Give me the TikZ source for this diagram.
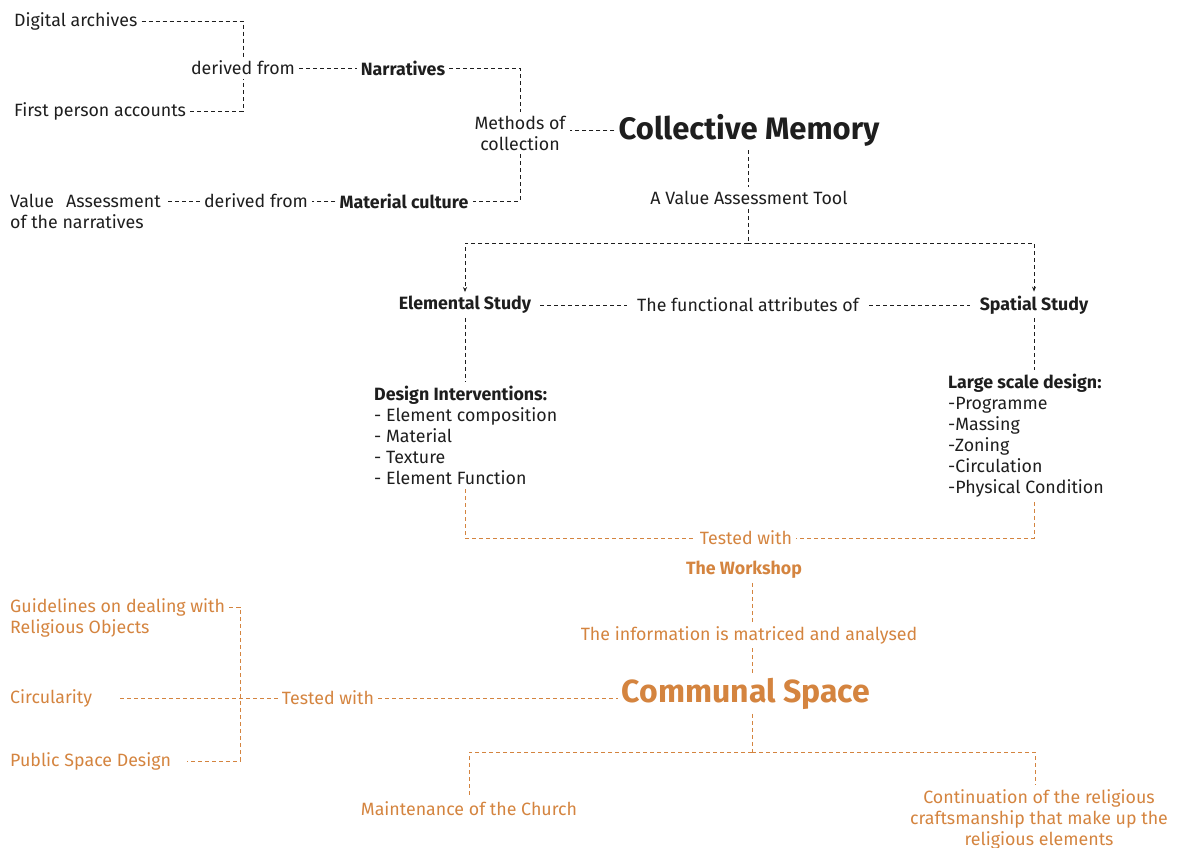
\documentclass[tikz,border=0pt]{standalone}
\usepackage{fontspec}
\setmainfont{Fira Sans}
\usepackage{xcolor}
\usetikzlibrary{positioning, arrows.meta, calc}
\definecolor{ink}{HTML}{1E1E1E}
\definecolor{warm}{HTML}{D4843F}
\newcommand\bodysize{\fontsize{17.8}{21}\selectfont}
\tikzset{
  txt/.style   = {font=\bodysize, text=ink, inner sep=4pt, align=left},
  hdr/.style   = {txt, font=\bodysize\bfseries},
  otxt/.style  = {txt, text=warm},
  ohdr/.style  = {hdr, text=warm},
  link/.style  = {draw=ink, line width=0.8pt, dash pattern=on 4pt off 3pt},
  olink/.style = {draw=warm, line width=0.8pt, dash pattern=on 4pt off 3pt},
  down/.style  = {link, -{Stealth[length=5pt, width=4pt]}}
}

\begin{document}
\begin{tikzpicture}[x=1pt, y=-1pt]
    \useasboundingbox (0,0) rectangle (1181,848);

    % ── Sources of collective memory ─────────────────────────────────────
    \node[txt, anchor=west] (digital) at (10, 21) {Digital archives};
    \node[txt, anchor=west] (first)   at (10, 111) {First person accounts};
    \node[txt] (derivedA) at (243, 68) {derived from};
    \node[hdr] (narr)     at (403, 68) {Narratives};
    \node[txt, align=center] (methods) at (520, 133) {Methods of\\collection};
    \node[txt, anchor=west] (value) at (6, 211.5)
      {Value\hspace{12pt}Assessment\\of the narratives};
    \node[txt] (derivedB) at (256, 201) {derived from};
    \node[hdr] (matcult)  at (404, 201) {Material culture};

    \draw[link] (digital.east) -| (derivedA.north);
    \draw[link] (first.east)   -| (derivedA.south);
    \draw[link] (derivedA.east) -- (narr.west);
    \draw[link] (narr.east) -| (methods.north);
    \draw[link] (methods.south) |- (matcult.east);
    \draw[link] (derivedB.west) -- (derivedB.west -| value.east);
    \draw[link] (matcult.west) -- (derivedB.east);

    % ── Collective memory and the value assessment tool ──────────────────
    \node[txt, font=\fontsize{31}{34}\selectfont\bfseries] (cm) at (749, 130)
      {Collective Memory};
    \node[txt] (vat) at (749, 198) {A Value Assessment Tool};
    \coordinate (split) at (748, 243);

    \draw[link] (cm.west) -- (cm.west -| methods.east);
    \draw[link] (cm.south -| split) -- (vat.north -| split);
    \draw[link] (vat.south -| split) -- (split);

    % ── Elemental and spatial study ──────────────────────────────────────
    \node[hdr] (elem)  at (465, 305) {Elemental Study};
    \node[hdr] (spat)  at (1034, 305) {Spatial Study};
    \node[txt] (fattr) at (748, 305) {The functional attributes of};

    \draw[down] (split) -| (elem.north);
    \draw[down] (split) -| (spat.north);
    \draw[link, shorten <=5pt, shorten >=6pt] (elem.east) -- (fattr.west);
    \draw[link, shorten <=6pt, shorten >=6pt] (fattr.east) -- (spat.west);

    \node[txt, anchor=west] (design) at (370, 435.5)
      {\textbf{Design Interventions:}\\- Element composition\\- Material\\- Texture\\- Element Function};
    \node[txt, anchor=west] (large) at (944, 436)
      {\textbf{Large scale design:}\\-Programme\\-Massing\\-Zoning\\-Circulation\\-Physical Condition};

    \draw[link] (elem.south) -- (elem.south |- design.north);
    \draw[link] (spat.south) -- (spat.south |- large.north);

    % ── Workshop ─────────────────────────────────────────────────────────
    \node[otxt] (testA)    at (746, 538) {Tested with};
    \node[ohdr] (workshop) at (744, 570) {The Workshop};
    \node[otxt] (info)     at (749, 635) {The information is matriced and analysed};

    \draw[olink] (elem.south |- design.south) |- (testA.west);
    \draw[olink] (spat.south |- large.south) |- (testA.east);

    % ── Communal space ───────────────────────────────────────────────────
    \node[ohdr, font=\fontsize{32}{35}\selectfont\bfseries] (cs) at (746, 694)
      {Communal Space};
    \coordinate (split2) at (752, 752);

    \draw[olink] (workshop.south -| split2) -- (info.north -| split2);
    \draw[olink] (info.south -| split2) -- (cs.north -| split2);
    \draw[olink] (cs.south -| split2) -- (split2);

    \node[otxt] (church) at (469, 809) {Maintenance of the Church};
    \node[otxt, align=center] (craft) at (1039, 819)
      {Continuation of the religious\\craftsmanship that make up the\\religious elements};

    \draw[olink] (split2) -| (church.north);
    \draw[olink] (split2) -| ($(craft.north)+(-4,0)$);

    % ── Left cluster ─────────────────────────────────────────────────────
    \node[otxt, anchor=west] (guide) at (6, 617.5)
      {Guidelines on dealing with\\Religious Objects};
    \node[otxt, anchor=west] (circ) at (6, 698) {Circularity};
    \node[otxt, anchor=west] (psd)  at (6, 761) {Public Space Design};
    \node[otxt] (testB) at (328, 698) {Tested with};
    \coordinate (gtop) at (240, 607);
    \coordinate (gbot) at (240, 761);

    \draw[olink] (gtop -| guide.east) -- (gtop) -- (gbot) -- ([xshift=12pt]psd.east);
    \draw[olink, shorten <=24pt] (circ.east) -- (testB.west);
    \draw[olink] (testB.east) -- (testB.east -| cs.west);

\end{tikzpicture}
\end{document}
